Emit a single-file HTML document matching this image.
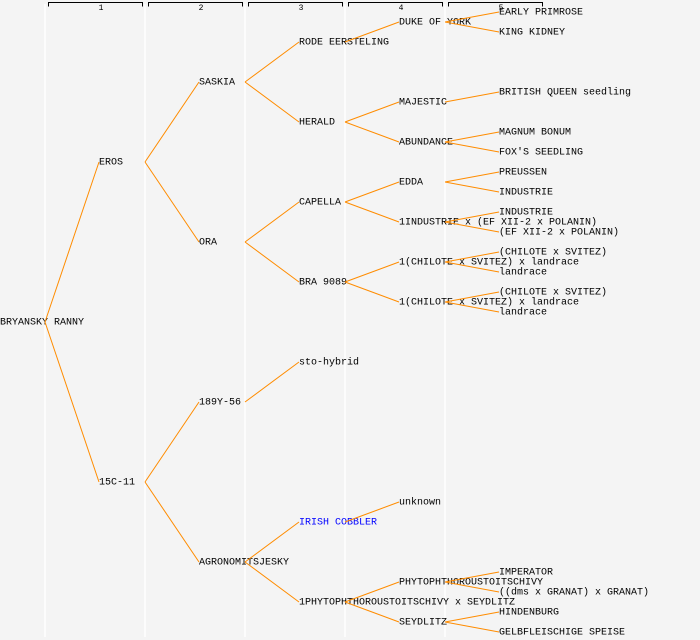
<!DOCTYPE html>
<html><head><style>
html,body{margin:0;padding:0;background:#f4f4f4;}
svg{display:block;}
text{font-family:"Liberation Mono","DejaVu Sans Mono",monospace;font-size:10px;fill:#000;dominant-baseline:middle;}
</style></head><body>
<svg width="700" height="640" xmlns="http://www.w3.org/2000/svg">
<rect width="700" height="640" fill="#f4f4f4"/>
<g stroke="#ffffff" stroke-width="1.5">
<line x1="45" y1="4" x2="45" y2="637"/><line x1="145" y1="4" x2="145" y2="637"/><line x1="245" y1="4" x2="245" y2="637"/><line x1="345" y1="4" x2="345" y2="637"/><line x1="445" y1="4" x2="445" y2="637"/>
</g>
<g stroke="#000" stroke-width="1" fill="none">
<path d="M48.5 6.5V2.5H142.5V6.5"/><path d="M148.5 6.5V2.5H242.5V6.5"/><path d="M248.5 6.5V2.5H342.5V6.5"/><path d="M348.5 6.5V2.5H442.5V6.5"/><path d="M448.5 6.5V2.5H542.5V6.5"/>
</g>
<g style="font-size:8px"><text x="101" y="8" text-anchor="middle" style="font-size:8px">1</text><text x="201" y="8" text-anchor="middle" style="font-size:8px">2</text><text x="301" y="8" text-anchor="middle" style="font-size:8px">3</text><text x="401" y="8" text-anchor="middle" style="font-size:8px">4</text><text x="501" y="8" text-anchor="middle" style="font-size:8px">5</text></g>
<g>
<text x="0" y="322">BRYANSKY RANNY</text>
<text x="99" y="162">EROS</text><text x="99" y="482">15C-11</text>
<text x="199" y="82">SASKIA</text><text x="199" y="242">ORA</text><text x="199" y="402">189Y-56</text><text x="199" y="562">AGRONOMITSJESKY</text>
<text x="299" y="42">RODE EERSTELING</text><text x="299" y="122">HERALD</text><text x="299" y="202">CAPELLA</text><text x="299" y="282">BRA 9089</text><text x="299" y="362">sto-hybrid</text><text x="299" y="522" style="fill:#0000ff">IRISH COBBLER</text><text x="299" y="602">1PHYTOPHTHOROUSTOITSCHIVY x SEYDLITZ</text>
<text x="399" y="22">DUKE OF YORK</text><text x="399" y="102">MAJESTIC</text><text x="399" y="142">ABUNDANCE</text><text x="399" y="182">EDDA</text><text x="399" y="222">1INDUSTRIE x (EF XII-2 x POLANIN)</text><text x="399" y="262">1(CHILOTE x SVITEZ) x landrace</text><text x="399" y="302">1(CHILOTE x SVITEZ) x landrace</text><text x="399" y="502">unknown</text><text x="399" y="582">PHYTOPHTHOROUSTOITSCHIVY</text><text x="399" y="622">SEYDLITZ</text>
<text x="499" y="12">EARLY PRIMROSE</text><text x="499" y="32">KING KIDNEY</text><text x="499" y="92">BRITISH QUEEN seedling</text><text x="499" y="132">MAGNUM BONUM</text><text x="499" y="152">FOX'S SEEDLING</text><text x="499" y="172">PREUSSEN</text><text x="499" y="192">INDUSTRIE</text><text x="499" y="212">INDUSTRIE</text><text x="499" y="232">(EF XII-2 x POLANIN)</text><text x="499" y="252">(CHILOTE x SVITEZ)</text><text x="499" y="272">landrace</text><text x="499" y="292">(CHILOTE x SVITEZ)</text><text x="499" y="312">landrace</text><text x="499" y="572">IMPERATOR</text><text x="499" y="592">((dms x GRANAT) x GRANAT)</text><text x="499" y="612">HINDENBURG</text><text x="499" y="632">GELBFLEISCHIGE SPEISE</text>
</g>
<g stroke="#ff8c00" stroke-width="1" fill="none">
<path d="M45 322L99 162M45 322L99 482"/>
<path d="M145 162L199 82M145 162L199 242M145 482L199 402M145 482L199 562"/>
<path d="M245 82L299 42M245 82L299 122M245 242L299 202M245 242L299 282M245 402L299 362M245 562L299 522M245 562L299 602"/>
<path d="M345 42L399 22M345 122L399 102M345 122L399 142M345 202L399 182M345 202L399 222M345 282L399 262M345 282L399 302M345 522L399 502M345 602L399 582M345 602L399 622"/>
<path d="M445 22L499 12M445 22L499 32M445 102L499 92M445 142L499 132M445 142L499 152M445 182L499 172M445 182L499 192M445 222L499 212M445 222L499 232M445 262L499 252M445 262L499 272M445 302L499 292M445 302L499 312M445 582L499 572M445 582L499 592M445 622L499 612M445 622L499 632"/>
</g>
</svg>
</body></html>
